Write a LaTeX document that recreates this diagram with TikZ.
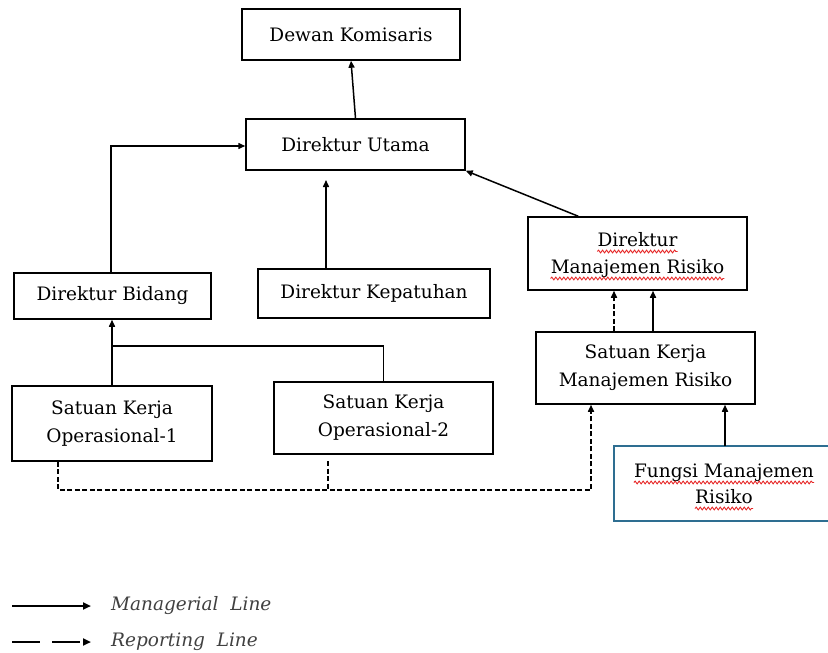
\documentclass[tikz,border=0pt]{standalone}
\usepackage{fontspec}
\setmainfont{DejaVu Serif}
\usetikzlibrary{arrows.meta,decorations.pathmorphing}
\definecolor{fmrblue}{RGB}{46,110,145}
\definecolor{spellred}{RGB}{230,40,40}
\begin{document}
\begin{tikzpicture}[x=1pt,y=-1pt,
  box/.style={draw=black, line width=1.5pt, rectangle, inner sep=0pt, align=center,
    font=\fontsize{18.5}{28}\selectfont},
  txt/.style={anchor=base, inner sep=0pt, font=\fontsize{18.5}{28}\selectfont},
  wave/.style={draw=spellred, line width=0.9pt, decorate,
    decoration={snake, amplitude=1.4pt, segment length=4pt}},
  arr/.style={line width=1.5pt, -{Triangle[length=7pt,width=6pt]}},
  ln/.style={line width=1.5pt},
  dsh/.style={line width=1.5pt, dash pattern=on 5pt off 2.5pt},
  legtext/.style={anchor=west, inner sep=0pt, font=\fontsize{18.5}{20}\selectfont\itshape, text=black!75}
]
\useasboundingbox (0,0) rectangle (828,653);

\node[box, minimum width=218pt, minimum height=51pt] (dk) at (351,34.5) {Dewan Komisaris};
\node[box, minimum width=219pt, minimum height=51pt] (du) at (355.5,144.5) {Direktur Utama};
\node[box, minimum width=197pt, minimum height=46pt] (db) at (112.5,296) {Direktur Bidang};
\node[box, minimum width=232pt, minimum height=49pt] (dkep) at (374,293.5) {Direktur Kepatuhan};
\node[box, minimum width=219pt, minimum height=73pt] (dmr) at (637.5,253.5) {};
\node[box, minimum width=219pt, minimum height=72pt] (skmr) at (645.5,368) {Satuan Kerja\\Manajemen Risiko};
\node[box, minimum width=200pt, minimum height=75pt] (op1) at (112,423.5) {Satuan Kerja\\Operasional-1};
\node[box, minimum width=219pt, minimum height=72pt] (op2) at (383.5,418) {Satuan Kerja\\Operasional-2};
\node[box, draw=fmrblue, minimum width=226pt, minimum height=75pt] (fmr) at (727,483.5) {};

% texts with spelling marks
\node[txt] (dmr1) at (637.5,246) {Direktur};
\node[txt] (dmr2) at (637.5,273) {Manajemen Risiko};
\node[txt] (fmr1) at (724,477) {Fungsi Manajemen};
\node[txt] (fmr2) at (724,503) {Risiko};
\foreach \t in {dmr1,dmr2,fmr1,fmr2}{
  \draw[wave] ([yshift=-5.5pt]\t.base west) -- ([yshift=-5.5pt]\t.base east);
}

% managerial lines
\draw[arr] (du.north) -- (dk.south);
\draw[arr] ([xshift=-1.5pt]db.north) |- ([yshift=-1.5pt]du.west);
\coordinate (kepend) at (326,180);
\draw[arr] (kepend |- dkep.north) -- (kepend);
\draw[arr] ([xshift=51pt]dmr.north west) -- (du.south east);
\draw[arr] ([xshift=7.5pt]skmr.north) -- ([xshift=7.5pt]skmr.north |- dmr.south);
\draw[dsh, -{Triangle[length=7pt,width=6pt]}] ([xshift=-31.5pt]skmr.north) -- ([xshift=-31.5pt]skmr.north |- dmr.south);
\coordinate (junc) at (112,346);
\draw[arr] (op1.north) -- (op1.north |- db.south);
\draw[ln] (op2.north) |- (junc);
\coordinate (fmrtop) at (725,446);
\draw[arr] (fmrtop) -- (fmrtop |- skmr.south);

% reporting lines
\coordinate (rbot) at (0,490);
\coordinate (op2gap) at (328,461);
\draw[dsh, -{Triangle[length=7pt,width=6pt]}] ([xshift=-54pt]op1.south) -- ([xshift=-54pt]op1.south |- rbot)
  -| ([xshift=-54.5pt]skmr.south);
\draw[dsh] (op2gap) -- (op2gap |- rbot);

% legend
\coordinate (l1a) at (12,606);
\coordinate (l1b) at (91,606);
\coordinate (l2a) at (12,642);
\coordinate (l2b) at (91,642);
\draw[line width=2.4pt, -{Triangle[length=8pt,width=7pt]}] (l1a) -- (l1b);
\draw[line width=2.4pt, dash pattern=on 28pt off 12pt, -{Triangle[length=8pt,width=7pt]}] (l2a) -- (l2b);
\node[legtext] (t1) at (111,606) {Managerial\ \ Line};
\node[legtext] (t2) at (111,642) {Reporting\ \ Line};
\end{tikzpicture}
\end{document}
